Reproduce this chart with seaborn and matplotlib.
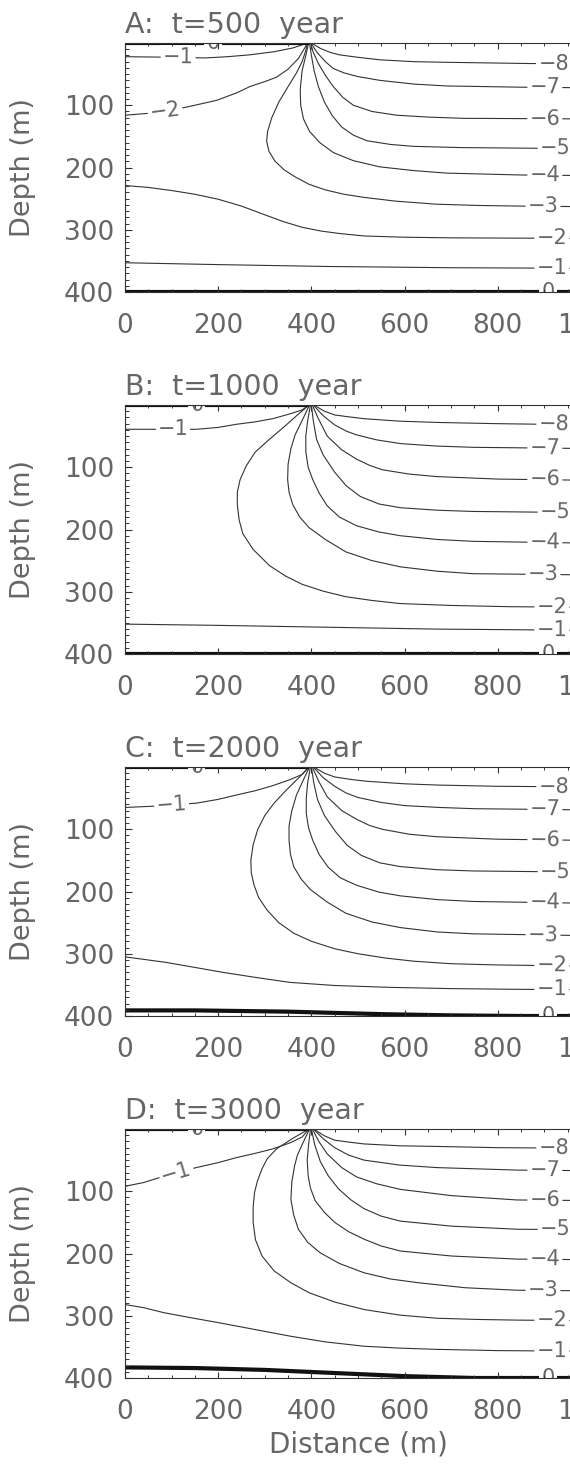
import numpy as np
import pandas as pd
import matplotlib
matplotlib.use("Agg")
import matplotlib.pyplot as plt
from matplotlib.ticker import MultipleLocator
import seaborn as sns

titles = ["A:  t=500  year", "B:  t=1000  year", "C:  t=2000  year", "D:  t=3000  year"]
x_ticks = [0, 200, 400, 600, 800, 1000]
depth_ticks = [100, 200, 300, 400]

# contour traces: (level, label distance, [(distance m, depth m), ...])
panel_A = [
    (0, 189, [(0, 0), (392, 0)]),
    (-1, 114, [(0, 22), (114, 23), (172, 24), (220, 22), (268, 19), (320, 14), (360, 8), (392, 0)]),
    (-2, 86, [(0, 116), (50, 113), (100, 108), (150, 100), (197, 92), (240, 80), (268, 70), (300, 62),
              (325, 55), (350, 42), (372, 25), (392, 0)]),
    (-3, 897, [(392, 0), (388, 12), (380, 30), (368, 48), (350, 70), (330, 95), (315, 120), (306, 142),
               (304, 158), (309, 174), (322, 190), (342, 204), (365, 215), (395, 227), (430, 236), (470, 243),
               (513, 248), (580, 254), (669, 259), (760, 261), (848, 262), (1000, 263)]),
    (-4, 901, [(394, 0), (388, 20), (380, 45), (376, 75), (377, 100), (383, 122), (396, 142), (418, 160),
               (447, 176), (490, 189), (547, 199), (620, 205), (690, 209), (848, 212), (1000, 213)]),
    (-5, 923, [(396, 0), (400, 20), (406, 45), (415, 70), (428, 95), (445, 117), (465, 135), (490, 148),
               (519, 157), (570, 163), (619, 166), (720, 168), (869, 169), (1000, 170)]),
    (-6, 901, [(398, 0), (404, 15), (415, 33), (430, 52), (447, 70), (467, 87), (490, 100), (530, 110),
               (583, 116), (650, 119), (726, 121), (1000, 122)]),
    (-7, 901, [(399, 0), (412, 15), (430, 30), (447, 41), (470, 48), (500, 54), (547, 60), (620, 66),
               (690, 69), (850, 71), (1000, 72)]),
    (-8, 920, [(400, 0), (420, 9), (440, 15), (460, 19), (500, 23), (547, 27), (620, 30), (690, 31),
               (870, 33), (1000, 33)]),
    (-2, 916, [(0, 229), (50, 232), (100, 237), (150, 243), (200, 251), (250, 262), (300, 276), (340, 287),
               (380, 296), (420, 302), (460, 306), (513, 310), (600, 312), (700, 313), (1000, 314)]),
    (-1, 916, [(0, 353), (200, 356), (435, 359), (700, 361), (1000, 362)]),
    (0, 908, [(0, 400), (1000, 400)]),
]

panel_B = [
    (0, 154, [(0, 0), (392, 0)]),
    (-1, 103, [(0, 39), (103, 39), (154, 39), (200, 36), (239, 31), (280, 27), (317, 22), (355, 14),
               (380, 8), (395, 0)]),
    (-2, 916, [(395, 0), (370, 16), (340, 36), (310, 55), (279, 76), (260, 98), (247, 120), (241, 140),
               (241, 160), (245, 185), (253, 207), (275, 232), (310, 258), (345, 275), (380, 288), (425, 299),
               (474, 308), (530, 314), (591, 319), (700, 322), (825, 324), (1000, 325)]),
    (-3, 897, [(396, 0), (380, 25), (365, 48), (356, 70), (350, 95), (349, 120), (352, 140), (360, 160),
               (375, 180), (395, 197), (430, 216), (474, 236), (530, 250), (591, 260), (670, 267), (747, 271),
               (1000, 273)]),
    (-4, 901, [(398, 0), (392, 25), (388, 50), (388, 75), (393, 100), (403, 120), (417, 142), (434, 162),
               (460, 180), (497, 194), (545, 204), (591, 210), (670, 216), (747, 219), (1000, 222)]),
    (-5, 923, [(400, 0), (404, 25), (411, 55), (425, 80), (450, 108), (475, 130), (505, 147), (545, 159),
               (591, 165), (670, 169), (747, 171), (1000, 173)]),
    (-6, 901, [(402, 0), (415, 22), (434, 50), (465, 72), (497, 87), (525, 97), (552, 104), (610, 111),
               (669, 115), (800, 119), (1000, 121)]),
    (-7, 901, [(404, 0), (425, 17), (450, 32), (475, 42), (497, 48), (540, 56), (591, 62), (670, 66),
               (747, 68), (1000, 70)]),
    (-8, 920, [(405, 0), (428, 10), (450, 16), (480, 19), (513, 22), (590, 26), (669, 28), (800, 30),
               (1000, 32)]),
    (-1, 916, [(0, 352), (200, 354), (434, 357), (669, 360), (1000, 362)]),
    (0, 908, [(0, 400), (1000, 400)]),
]

panel_C = [
    (0, 154, [(0, 0), (392, 0)]),
    (-1, 100, [(0, 65), (60, 63), (154, 58), (200, 52), (239, 45), (280, 38), (317, 30), (355, 20),
               (380, 12), (395, 0)]),
    (-2, 916, [(395, 0), (372, 18), (345, 38), (320, 58), (300, 78), (285, 100), (275, 125), (270, 150),
               (271, 170), (277, 190), (287, 210), (305, 230), (330, 250), (362, 267), (400, 280), (450, 292),
               (500, 300), (560, 307), (620, 312), (700, 316), (800, 318), (1000, 320)]),
    (-3, 897, [(396, 0), (382, 22), (368, 45), (358, 70), (352, 95), (352, 118), (355, 140), (362, 160),
               (378, 180), (398, 197), (434, 217), (474, 235), (530, 249), (591, 258), (670, 265), (747, 268),
               (1000, 271)]),
    (-4, 901, [(398, 0), (392, 25), (389, 50), (389, 75), (394, 98), (403, 118), (417, 141), (436, 161),
               (462, 178), (497, 190), (545, 201), (591, 207), (670, 213), (747, 216), (1000, 219)]),
    (-5, 923, [(400, 0), (405, 25), (413, 52), (428, 78), (452, 104), (477, 126), (507, 142), (547, 154),
               (591, 160), (670, 165), (747, 167), (1000, 169)]),
    (-6, 901, [(402, 0), (415, 22), (434, 48), (465, 70), (497, 84), (525, 94), (552, 100), (610, 108),
               (669, 112), (800, 116), (1000, 118)]),
    (-7, 901, [(404, 0), (425, 17), (450, 31), (475, 42), (500, 49), (550, 57), (600, 62), (675, 65),
               (750, 67), (1000, 69)]),
    (-8, 920, [(405, 0), (428, 10), (450, 16), (485, 20), (520, 23), (600, 27), (670, 29), (800, 31),
               (1000, 32)]),
    (-1, 916, [(0, 305), (40, 309), (89, 314), (150, 322), (211, 330), (280, 338), (354, 346), (450, 351),
               (569, 354), (700, 356), (826, 357), (1000, 358)]),
    (0, 908, [(0, 391), (150, 391), (250, 392), (350, 393), (450, 395), (550, 397), (700, 399), (850, 400),
              (1000, 400)]),
]

panel_D = [
    (0, 154, [(0, 0), (392, 0)]),
    (-1, 110, [(0, 92), (40, 86), (70, 79), (110, 70), (153, 62), (200, 54), (239, 46), (280, 39),
               (317, 32), (355, 22), (380, 13), (395, 0)]),
    (-2, 916, [(395, 0), (360, 15), (325, 32), (305, 48), (294, 64), (284, 84), (278, 102), (275, 125),
               (275, 150), (280, 178), (294, 204), (320, 228), (356, 247), (395, 263), (450, 278), (513, 290),
               (590, 299), (669, 304), (760, 306), (841, 307), (1000, 308)]),
    (-3, 897, [(396, 0), (382, 22), (370, 42), (364, 59), (358, 85), (356, 113), (362, 138), (372, 161),
               (392, 182), (419, 199), (460, 216), (513, 231), (570, 241), (630, 247), (730, 255), (841, 259),
               (1000, 260)]),
    (-4, 901, [(398, 0), (394, 25), (391, 50), (393, 75), (398, 95), (408, 115), (428, 134), (450, 150),
               (480, 165), (513, 177), (550, 188), (591, 196), (700, 204), (841, 209), (1000, 210)]),
    (-5, 923, [(400, 0), (407, 25), (419, 52), (436, 75), (458, 96), (485, 114), (513, 128), (550, 140),
               (591, 148), (700, 156), (841, 161), (1000, 162)]),
    (-6, 901, [(402, 0), (416, 20), (434, 40), (465, 62), (497, 77), (540, 88), (591, 97), (700, 107),
               (841, 114), (1000, 115)]),
    (-7, 901, [(404, 0), (426, 16), (450, 30), (480, 42), (513, 50), (590, 58), (669, 62), (841, 66),
               (1000, 67)]),
    (-8, 920, [(405, 0), (428, 11), (450, 18), (480, 21), (513, 24), (590, 27), (669, 28), (800, 30),
               (1000, 31)]),
    (-1, 916, [(0, 282), (40, 287), (83, 295), (140, 303), (200, 311), (278, 322), (356, 333), (430, 342),
               (513, 349), (590, 352), (669, 354), (800, 356), (1000, 357)]),
    (0, 908, [(0, 383), (150, 384), (300, 387), (450, 392), (600, 397), (750, 400), (1000, 400)]),
]

panels = [panel_A, panel_B, panel_C, panel_D]

sns.set_style("ticks")
plt.rcParams["font.family"] = ["DejaVu Sans"]
text_col = "#666666"
line_col = "#333333"


def label_spot(pts, xl):
    # depth and local direction of the trace where it crosses the label distance
    for (x0, d0), (x1, d1) in zip(pts[:-1], pts[1:]):
        if min(x0, x1) <= xl <= max(x0, x1) and x0 != x1:
            return d0 + (d1 - d0) * (xl - x0) / (x1 - x0), (x0, d0), (x1, d1)
    return pts[-1][1], pts[-2], pts[-1]


fig = plt.figure(figsize=(5.70, 14.64), dpi=100)
W, H = 570, 1464

for i, (panel, title) in enumerate(zip(panels, titles)):
    top = 43 + 362 * i
    ax = fig.add_axes([125 / W, 1 - (top + 249) / H, 466 / W, 249 / H])

    rows = []
    for k, (level, xl, pts) in enumerate(panel):
        for x, d in pts:
            rows.append({"dist": x, "depth": d, "seg": k, "level": level})
    df = pd.DataFrame(rows)

    sns.lineplot(data=df[df["level"] != 0], x="dist", y="depth", units="seg", estimator=None, sort=False,
                 color=line_col, linewidth=0.8, ax=ax, zorder=2)
    sns.lineplot(data=df[df["level"] == 0], x="dist", y="depth", units="seg", estimator=None, sort=False,
                 color="#111111", linewidth=3.0, ax=ax, zorder=2)

    ax.set_xlim(0, 1000)
    ax.set_ylim(400, 0)

    for level, xl, pts in panel:
        d, p0, p1 = label_spot(pts, xl)
        a, b = ax.transData.transform([p0, p1])
        if b[0] < a[0]:
            a, b = b, a
        ang = np.degrees(np.arctan2(b[1] - a[1], b[0] - a[0]))
        lab = "0" if level == 0 else "\u2212%d" % abs(level)
        ax.text(xl, d, lab, ha="center", va="center", fontsize=15, color=text_col, rotation=ang,
                rotation_mode="anchor", clip_on=True, zorder=2.2,
                bbox=dict(boxstyle="square,pad=0.1", fc="white", ec="none"))

    ax.set_xticks(x_ticks)
    ax.set_yticks(depth_ticks)
    ax.xaxis.set_minor_locator(MultipleLocator(50))
    ax.yaxis.set_minor_locator(MultipleLocator(10))
    ax.set_axisbelow(False)
    ax.tick_params(axis="x", which="major", direction="in", top=True, length=4, width=0.8,
                   colors=line_col, labelcolor=text_col, labelsize=19, pad=15)
    ax.tick_params(axis="x", which="minor", direction="in", top=True, length=2.2, width=0.7, colors=line_col)
    ax.tick_params(axis="y", which="major", direction="in", right=True, length=5, width=0.8,
                   colors=line_col, labelcolor=text_col, labelsize=19, pad=8)
    ax.tick_params(axis="y", which="minor", direction="in", right=True, length=3, width=0.7, colors=line_col)
    for s in ax.spines.values():
        s.set_color(line_col)
        s.set_linewidth(0.8)

    ax.set_title(title, loc="left", fontsize=20.5, color=text_col, pad=7)
    ax.set_ylabel("Depth (m)", fontsize=19.5, color=text_col)
    ax.yaxis.set_label_coords(-0.19, 0.5)
    if i == 3:
        ax.set_xlabel("Distance (m)", fontsize=20, color=text_col, labelpad=4)
    else:
        ax.set_xlabel("")

fig.savefig("out.png", dpi=100)
